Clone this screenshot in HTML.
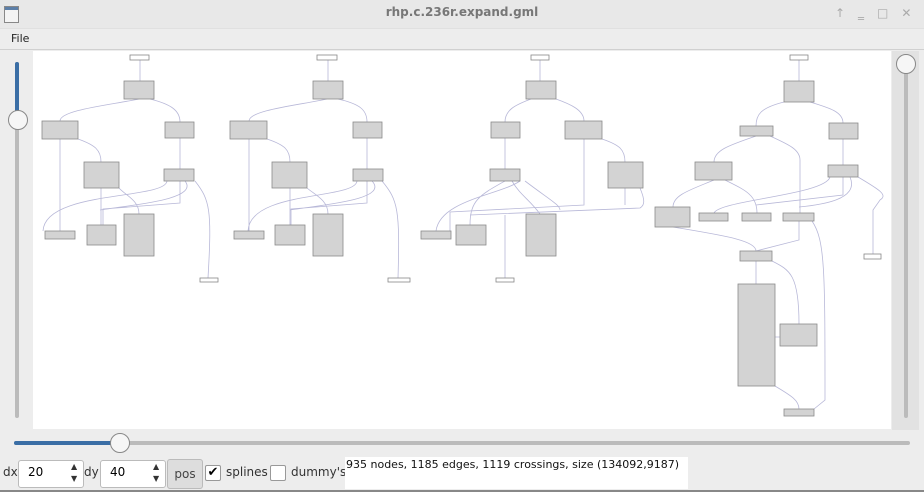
<!DOCTYPE html>
<html><head><meta charset="utf-8"><style>
body{margin:0;width:924px;height:492px;overflow:hidden;background:#ededed;font-family:"DejaVu Sans","Liberation Sans",sans-serif;position:relative}
.abs{position:absolute}
</style></head><body>
<div class="abs" style="left:0;top:0;width:924px;height:28px;background:#e8e8e8;border-bottom:1px solid #e0e0e0"></div>
<div class="abs" style="left:4px;top:6px;width:13px;height:15px;border:1px solid #888;background:linear-gradient(#5c7fa8 0 3px,#f4f4f4 3px)"></div>
<div class="abs" style="left:0;top:5px;width:924px;text-align:center;font-size:12px;font-weight:bold;color:#777">rhp.c.236r.expand.gml</div>
<div class="abs" style="left:835px;top:6px;font-size:12px;color:#aaa;letter-spacing:13px">↑‗□✕</div>
<div class="abs" style="left:11px;top:32px;font-size:11px;color:#222">File</div>
<div class="abs" style="left:0;top:49px;width:924px;height:1px;background:#d0d0d0"></div>
<!-- left vslider -->
<div class="abs" style="left:15px;top:62px;width:4px;height:356px;background:#bbb;border-radius:2px"></div>
<div class="abs" style="left:15px;top:62px;width:4px;height:58px;background:#3a6ea5;border-radius:2px"></div>
<div class="abs" style="left:8px;top:110px;width:18px;height:18px;border-radius:50%;background:#f6f6f6;border:1px solid #888"></div>
<!-- right vslider -->
<div class="abs" style="left:892px;top:51px;width:27px;height:379px;background:#e2e2e2"></div>
<div class="abs" style="left:904px;top:62px;width:4px;height:356px;background:#bbb;border-radius:2px"></div>
<div class="abs" style="left:896px;top:54px;width:18px;height:18px;border-radius:50%;background:#f6f6f6;border:1px solid #888"></div>
<!-- hslider -->
<div class="abs" style="left:14px;top:441px;width:896px;height:4px;background:#bbb;border-radius:2px"></div>
<div class="abs" style="left:14px;top:441px;width:105px;height:4px;background:#3a6ea5;border-radius:2px"></div>
<div class="abs" style="left:110px;top:433px;width:18px;height:18px;border-radius:50%;background:#f6f6f6;border:1px solid #888"></div>
<!-- controls -->
<div class="abs" style="left:3px;top:465px;font-size:12px;color:#333">dx</div>
<div class="abs" style="left:18px;top:460px;width:64px;height:26px;background:#fff;border:1px solid #bbb;border-radius:3px"></div>
<div class="abs" style="left:28px;top:465px;font-size:12px">20</div>
<div class="abs" style="left:71px;top:461px;font-size:8px;color:#333;line-height:12px">▲<br>▼</div>
<div class="abs" style="left:84px;top:465px;font-size:12px;color:#333">dy</div>
<div class="abs" style="left:100px;top:460px;width:64px;height:26px;background:#fff;border:1px solid #bbb;border-radius:3px"></div>
<div class="abs" style="left:110px;top:465px;font-size:12px">40</div>
<div class="abs" style="left:153px;top:461px;font-size:8px;color:#333;line-height:12px">▲<br>▼</div>
<div class="abs" style="left:167px;top:459px;width:34px;height:28px;background:#ddd;border:1px solid #bbb;border-radius:3px;font-size:12px;color:#444;text-align:center;line-height:28px">pos</div>
<div class="abs" style="left:205px;top:465px;width:14px;height:14px;border:1px solid #999;background:#fff;border-radius:2px;font-size:13px;line-height:14px;text-align:center">✔</div>
<div class="abs" style="left:226px;top:465px;font-size:12px;color:#333">splines</div>
<div class="abs" style="left:270px;top:465px;width:14px;height:14px;border:1px solid #999;background:#fff;border-radius:2px"></div>
<div class="abs" style="left:291px;top:465px;font-size:12px;color:#333">dummy's</div>
<div class="abs" style="left:345px;top:457px;width:343px;height:32px;background:#fff"></div>
<div class="abs" style="left:346px;top:458px;font-size:11px;color:#111">935 nodes, 1185 edges, 1119 crossings, size (134092,9187)</div>
<div class="abs" style="left:0;top:490px;width:924px;height:2px;background:#888"></div>
<!-- canvas -->
<svg class="abs" style="left:0;top:0" width="924" height="492">
<rect x="33" y="51" width="858" height="378" fill="#fff"/>
<g fill="none" stroke="#b8b8d8" stroke-width="0.8">
<!-- graph1 -->
<path d="M140 60V81M139 99C110 105 60 110 60 121M150 99C170 104 180 110 180 122M60 139V231M78 139C95 145 101 150 101 162M180 138V169M101 188V225M119 188C125 195 139 200 139 214M167 181C165 200 45 190 43 231M180 181V203L103 209V225M185 181C200 200 130 205 100 210M195 181C210 200 212 210 208 278"/>
<path d="M328 60V81M327 99C300 105 249 110 249 121M338 99C360 104 367 110 367 122M249 139V231M267 139C285 145 290 150 290 162M367 138V169M290 188V225M307 188C315 195 328 200 328 214M357 181C355 200 250 190 248 231M367 181V203L291 209V225M372 181C390 200 320 205 290 210M382 181C398 200 400 210 398 278"/>
<!-- graph3 -->
<path d="M540 60V81M531 99C515 105 505 110 505 122M556 99C570 104 584 110 584 121M505 138V169M520 181C500 195 440 200 436 231M505 181C480 195 470 200 470 225M512 181C520 195 530 200 540 214M525 181C550 200 560 205 560 210M584 139V205L450 212V231M602 139C620 145 625 150 625 162M625 188V205M640 188C645 200 645 205 640 208L470 215M505 215V278"/>
<!-- graph4 -->
<path d="M799 60V81M784 102C760 108 756 115 756 126M810 102C830 108 843 112 843 123M843 139V165M756 136C730 145 714 150 714 162M770 136C790 145 800 150 800 160V213M714 180C690 190 673 195 673 207M725 180C745 190 757 195 757 213M830 177C825 195 720 200 714 213M843 177V195L756 205M850 177C860 200 820 205 799 207M858 177C880 190 888 195 880 200L873 210V254M673 227C720 235 756 240 756 251M799 221V240L756 251M812 221C825 240 825 270 825 400L814 409M756 261V284M772 261C790 270 799 275 799 324M775 337H780M775 386C790 395 799 400 799 409"/>
</g>
<g fill="#d3d3d3" stroke="#8a8a8a" stroke-width="0.8">
<rect x="124" y="81" width="30" height="18"/><rect x="42" y="121" width="36" height="18"/><rect x="165" y="122" width="29" height="16"/><rect x="84" y="162" width="35" height="26"/><rect x="164" y="169" width="30" height="12"/><rect x="45" y="231" width="30" height="8"/><rect x="87" y="225" width="29" height="20"/><rect x="124" y="214" width="30" height="42"/>
<rect x="313" y="81" width="30" height="18"/><rect x="230" y="121" width="37" height="18"/><rect x="353" y="122" width="29" height="16"/><rect x="272" y="162" width="35" height="26"/><rect x="353" y="169" width="30" height="12"/><rect x="234" y="231" width="30" height="8"/><rect x="275" y="225" width="30" height="20"/><rect x="313" y="214" width="30" height="42"/>
<rect x="526" y="81" width="30" height="18"/><rect x="491" y="122" width="29" height="16"/><rect x="565" y="121" width="37" height="18"/><rect x="490" y="169" width="30" height="12"/><rect x="608" y="162" width="35" height="26"/><rect x="421" y="231" width="30" height="8"/><rect x="456" y="225" width="30" height="20"/><rect x="526" y="214" width="30" height="42"/>
<rect x="784" y="81" width="30" height="21"/><rect x="740" y="126" width="33" height="10"/><rect x="829" y="123" width="29" height="16"/><rect x="695" y="162" width="37" height="18"/><rect x="828" y="165" width="30" height="12"/><rect x="655" y="207" width="35" height="20"/><rect x="699" y="213" width="29" height="8"/><rect x="742" y="213" width="29" height="8"/><rect x="783" y="213" width="31" height="8"/><rect x="740" y="251" width="32" height="10"/><rect x="738" y="284" width="37" height="102"/><rect x="780" y="324" width="37" height="22"/><rect x="784" y="409" width="30" height="7"/>
</g>
<g fill="#fff" stroke="#888" stroke-width="0.8">
<rect x="130" y="55" width="19" height="5"/><rect x="200" y="278" width="18" height="4"/>
<rect x="317" y="55" width="20" height="5"/><rect x="388" y="278" width="22" height="4"/>
<rect x="531" y="55" width="18" height="5"/><rect x="496" y="278" width="18" height="4"/>
<rect x="790" y="55" width="18" height="5"/><rect x="864" y="254" width="17" height="5"/>
</g>
</svg>
</body></html>
